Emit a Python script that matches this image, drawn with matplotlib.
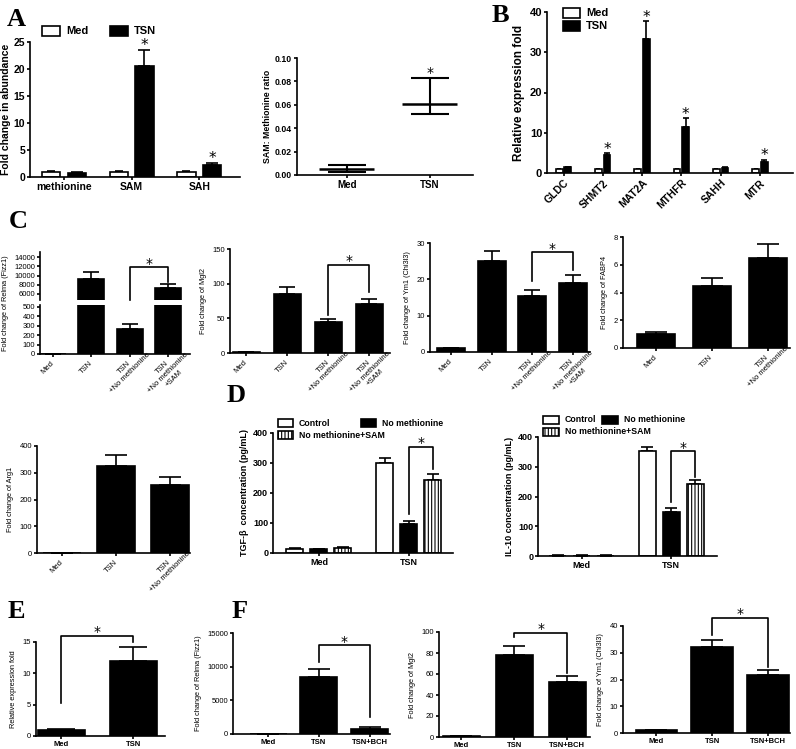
import matplotlib
matplotlib.use('Agg')
import matplotlib.pyplot as plt
import numpy as np
from matplotlib.patches import Rectangle

plt.rcParams['font.family'] = ['Liberation Sans', 'DejaVu Sans']
plt.rcParams['hatch.linewidth'] = 0.8

W, H = 796, 749

# ---- data ----
A_groups = ['methionine', 'SAM', 'SAH']
A_med = [1.0, 1.0, 1.0]
A_med_err = [0.1, 0.08, 0.1]
A_tsn = [0.8, 20.6, 2.3]
A_tsn_err = [0.1, 2.9, 0.25]

ratio_groups = ['Med', 'TSN']
ratio_mean = [0.005, 0.061]
ratio_lo = [0.0025, 0.052]
ratio_hi = [0.0085, 0.083]

B_genes = ['GLDC', 'SHMT2', 'MAT2A', 'MTHFR', 'SAHH', 'MTR']
B_med = [1.0, 1.0, 1.0, 1.0, 1.0, 1.0]
B_med_err = [0.05, 0.05, 0.05, 0.05, 0.05, 0.05]
B_tsn = [1.4, 4.4, 33.3, 11.5, 1.3, 2.8]
B_tsn_err = [0.15, 0.5, 4.5, 2.1, 0.2, 0.5]

C_groups4 = ['Med', 'TSN', 'TSN\n+No methionine', 'TSN\n+No methionine\n+SAM']
C_groups3 = ['Med', 'TSN', 'TSN\n+No methionine']
relma = [1, 9300, 270, 7300]
relma_err = [0, 1400, 50, 900]
mgl2 = [1, 85, 44, 70]
mgl2_err = [0.3, 10, 5, 8]
ym1 = [1, 25, 15.3, 18.9]
ym1_err = [0.15, 2.8, 1.8, 2.4]
fabp4 = [1.0, 4.45, 6.5]
fabp4_err = [0.12, 0.6, 1.0]
arg1 = [1, 325, 255]
arg1_err = [0.5, 40, 30]

D_groups = ['Med', 'TSN']
tgf_control = [14, 300]
tgf_control_err = [2, 18]
tgf_nomet = [13, 98]
tgf_nomet_err = [2, 8]
tgf_sam = [18, 245]
tgf_sam_err = [3, 18]
il10_control = [1.5, 352]
il10_control_err = [0.3, 14]
il10_nomet = [1.5, 147]
il10_nomet_err = [0.3, 14]
il10_sam = [1.5, 243]
il10_sam_err = [0.3, 13]

E_groups = ['Med', 'TSN']
E_vals = [1.0, 12.0]
E_err = [0.1, 2.2]

F_groups = ['Med', 'TSN', 'TSN+BCH']
F_relma = [10, 8500, 800]
F_relma_err = [0, 1100, 200]
F_mgl2 = [1, 78, 52]
F_mgl2_err = [0.2, 9, 6]
F_ym1 = [1, 32.3, 21.7]
F_ym1_err = [0.1, 2.5, 2]

fig = plt.figure(figsize=(W / 100, H / 100), dpi=100)


def place(x0, y0, x1, y1):
    return fig.add_axes([x0 / W, 1 - y1 / H, (x1 - x0) / W, (y1 - y0) / H])


def style(ax, fs=5.5, bold=False):
    for s in ['top', 'right']:
        ax.spines[s].set_visible(False)
    for s in ['left', 'bottom']:
        ax.spines[s].set_linewidth(1.2)
    ax.tick_params(direction='out', length=2.5, width=1.2, labelsize=fs, pad=1)
    if bold:
        for lbl in ax.get_yticklabels() + ax.get_xticklabels():
            lbl.set_fontweight('bold')


def bars(ax, x, h, err, width, cap, color='black', hatch=None):
    x = np.asarray(x, dtype=float)
    ax.bar(x, h, width, color=color, edgecolor='black', linewidth=1.2,
           hatch=hatch, zorder=2)
    ax.errorbar(x, h, yerr=[np.zeros(len(h)), err], fmt='none', ecolor='black',
                elinewidth=1.2, capsize=cap, capthick=1.2, zorder=1)


def star(ax, x, y, fs=11):
    # asterisk glyph sits just above y
    ax.annotate('*', xy=(x, y), xytext=(0, 1.5 - 0.18 * fs), textcoords='offset points',
                ha='center', va='baseline', fontsize=fs, family='DejaVu Sans',
                annotation_clip=False)


def bracket(ax, x1, x2, y, y1, y2, fs=10):
    ax.plot([x1, x1, x2, x2], [y1, y, y, y2], color='black', lw=1.2, clip_on=False)
    star(ax, (x1 + x2) / 2, y, fs)


def rot_labels(ax, labels, fs=5.5):
    ax.set_xticks(range(len(labels)))
    ax.set_xticklabels([])
    for i, lab in enumerate(labels):
        first = lab.split('\n')[0]
        d = 0.354 * 0.65 * fs * len(first)
        ax.annotate(lab, xy=(i, 0), xycoords=('data', 'axes fraction'),
                    xytext=(-2 - d, -4 - d), textcoords='offset points',
                    rotation=45, rotation_mode='anchor', ha='center', va='top',
                    multialignment='center', fontsize=fs, annotation_clip=False)


def leg_entry(x, y, label, face, hatch=None, w=17, h=9, fs=8):
    r = Rectangle((x / W, 1 - (y + h / 2) / H), w / W, h / H, transform=fig.transFigure,
                  facecolor=face, edgecolor='black', lw=1.2, hatch=hatch)
    fig.add_artist(r)
    fig.text((x + w + 6) / W, 1 - y / H, label, va='center', ha='left',
             fontsize=fs, fontweight='bold')


def letter(x, y, s):
    fig.text(x / W, 1 - y / H, s, fontsize=19, fontweight='bold',
             family='Liberation Serif', ha='center', va='center')


# ---- A left ----
ax = place(30, 42, 240, 177)
xa = np.arange(3)
bars(ax, xa - 0.19, A_med, A_med_err, 0.27, 3, color='white')
bars(ax, xa + 0.19, A_tsn, A_tsn_err, 0.27, 4)
ax.set_xlim(-0.5, 2.6)
ax.set_ylim(0, 25)
ax.set_yticks([0, 5, 10, 15, 20, 25])
ax.set_xticks(xa)
ax.set_xticklabels(A_groups)
ax.set_ylabel('Fold change in abundance', fontsize=7.5, fontweight='bold', labelpad=2)
style(ax, fs=7.5, bold=True)
star(ax, 1.19, 23.6)
star(ax, 2.19, 2.7)
leg_entry(42, 31, 'Med', 'white', w=18)
leg_entry(110, 31, 'TSN', 'black', w=18)
letter(16, 20, 'A')

# ---- A right ----
ax = place(297, 58, 473, 175)
xr = np.arange(2)
m = np.array(ratio_mean)
ax.errorbar(xr, m, yerr=[m - np.array(ratio_lo), np.array(ratio_hi) - m], fmt='none',
            ecolor='black', elinewidth=1.5, capsize=14, capthick=1.5)
ax.hlines(m, xr - 0.33, xr + 0.33, color='black', lw=1.8)
ax.set_xlim(-0.6, 1.52)
ax.set_ylim(0, 0.10)
ax.set_yticks([0, 0.02, 0.04, 0.06, 0.08, 0.10])
ax.set_yticklabels(['0.00', '0.02', '0.04', '0.06', '0.08', '0.10'])
ax.set_xticks(xr)
ax.set_xticklabels(ratio_groups, fontsize=7)
ax.set_ylabel('SAM: Methionine ratio', fontsize=6.3, fontweight='bold', labelpad=2)
style(ax, fs=6.3, bold=True)
ax.tick_params(axis='x', labelsize=7)
star(ax, 1, 0.084, 10)

# ---- B ----
ax = place(547, 12, 793, 173)
xb = np.arange(6)
bars(ax, xb - 0.11, B_med, B_med_err, 0.17, 1.5, color='white')
bars(ax, xb + 0.11, B_tsn, B_tsn_err, 0.17, 2)
ax.set_xlim(-0.42, 5.84)
ax.set_ylim(0, 40)
ax.set_yticks([0, 10, 20, 30, 40])
ax.set_xticks(xb)
ax.set_xticklabels(B_genes, rotation=45, ha='right', rotation_mode='anchor')
ax.set_ylabel('Relative expression fold', fontsize=8.5, fontweight='bold', labelpad=3)
style(ax, fs=8, bold=True)
ax.tick_params(axis='x', labelsize=7.5)
for i in [1, 2, 3, 5]:
    star(ax, i + 0.11, B_tsn[i] + B_tsn_err[i])
leg_entry(563, 13, 'Med', 'white')
leg_entry(563, 26, 'TSN', 'black')
letter(500, 15, 'B')

# ---- C1 Relma (broken axis) ----
x4 = np.arange(4)
axl = place(40, 305, 190, 354)
axu = place(40, 252, 190, 300)
for a in (axl, axu):
    bars(a, x4, relma, relma_err, 0.68, 6)
    a.set_xlim(-0.34, 3.57)
axl.set_ylim(0, 521)
axl.set_yticks([0, 100, 200, 300, 400, 500])
axu.set_ylim(4700, 15100)
axu.set_yticks([6000, 8000, 10000, 12000, 14000])
style(axl)
style(axu)
axu.spines['bottom'].set_visible(False)
axu.tick_params(axis='x', bottom=False, labelbottom=False)
rot_labels(axl, C_groups4)
bracket(axu, 2, 3, 11800, 4700, 8600)
fig.text(6 / W, 1 - 303 / H, 'Fold change of Relma (Fizz1)', rotation=90,
         fontsize=5.3, ha='center', va='center')
letter(18, 222, 'C')

# ---- C2 Mgl2 ----
ax = place(230, 249, 390, 353)
bars(ax, x4, mgl2, mgl2_err, 0.66, 6)
ax.set_xlim(-0.4, 3.5)
ax.set_ylim(0, 150)
ax.set_yticks([0, 50, 100, 150])
ax.set_ylabel('Fold change of Mgl2', fontsize=5.3, labelpad=4)
style(ax)
rot_labels(ax, C_groups4)
bracket(ax, 2, 3, 127, 55, 88)

# ---- C3 Ym1 ----
ax = place(430, 243, 590, 352)
bars(ax, x4, ym1, ym1_err, 0.69, 6)
ax.set_xlim(-0.52, 3.43)
ax.set_ylim(0, 30)
ax.set_yticks([0, 10, 20, 30])
ax.set_ylabel('Fold change of Ym1 (Chi3l3)', fontsize=5.3, labelpad=4)
style(ax)
rot_labels(ax, C_groups4)
bracket(ax, 2, 3, 27.5, 19.5, 22.5)

# ---- C4 FABP4 ----
x3 = np.arange(3)
ax = place(623, 237, 790, 348)
bars(ax, x3, fabp4, fabp4_err, 0.68, 8)
ax.set_xlim(-0.59, 2.4)
ax.set_ylim(0, 8)
ax.set_yticks([0, 2, 4, 6, 8])
ax.set_ylabel('Fold change of FABP4', fontsize=5.3, labelpad=4)
style(ax)
rot_labels(ax, C_groups3)

# ---- Arg1 ----
ax = place(37, 446, 190, 553)
bars(ax, x3, arg1, arg1_err, 0.7, 8)
ax.set_xlim(-0.47, 2.37)
ax.set_ylim(0, 400)
ax.set_yticks([0, 100, 200, 300, 400])
ax.set_ylabel('Fold change of Arg1', fontsize=5.3, labelpad=4)
style(ax)
rot_labels(ax, C_groups3)

# ---- D TGF-beta ----
xd = np.arange(2)
ax = place(273, 433, 453, 553)
bars(ax, xd - 0.267, tgf_control, tgf_control_err, 0.19, 4, color='white')
bars(ax, xd, tgf_nomet, tgf_nomet_err, 0.19, 4)
bars(ax, xd + 0.267, tgf_sam, tgf_sam_err, 0.19, 4, color='white', hatch='|' * 5)
ax.set_xlim(-0.51, 1.49)
ax.set_ylim(0, 400)
ax.set_yticks([0, 100, 200, 300, 400])
ax.set_xticks(xd)
ax.set_xticklabels(D_groups)
ax.set_ylabel('TGF-β  concentration (pg/mL)', fontsize=6.5, fontweight='bold', labelpad=3)
style(ax, fs=6.5, bold=True)
bracket(ax, 1, 1.267, 355, 130, 280)
leg_entry(278, 423, 'Control', 'white', w=15, h=8, fs=6.3)
leg_entry(361, 423, 'No methionine', 'black', w=15, h=8, fs=6.3)
leg_entry(278, 435, 'No methionine+SAM', 'white', hatch='|' * 5, w=15, h=8, fs=6.3)
letter(236, 396, 'D')

# ---- D IL-10 ----
ax = place(538, 437, 717, 556)
bars(ax, xd - 0.268, il10_control, il10_control_err, 0.19, 4, color='white')
bars(ax, xd, il10_nomet, il10_nomet_err, 0.19, 4)
bars(ax, xd + 0.268, il10_sam, il10_sam_err, 0.19, 4, color='white', hatch='|' * 5)
ax.set_xlim(-0.49, 1.51)
ax.set_ylim(0, 400)
ax.set_yticks([0, 100, 200, 300, 400])
ax.set_xticks(xd)
ax.set_xticklabels(D_groups)
ax.set_ylabel('IL-10 concentration (pg/mL)', fontsize=6.5, fontweight='bold', labelpad=3)
style(ax, fs=6.5, bold=True)
bracket(ax, 1, 1.268, 352, 180, 265)
leg_entry(543, 420, 'Control', 'white', w=16, h=8, fs=6.3)
leg_entry(602, 420, 'No methionine', 'black', w=16, h=8, fs=6.3)
leg_entry(543, 432, 'No methionine+SAM', 'white', hatch='|' * 5, w=16, h=8, fs=6.3)

# ---- E ----
ax = place(36, 642, 165, 736)
bars(ax, np.arange(2), E_vals, E_err, 0.65, 10)
ax.set_xlim(-0.35, 1.44)
ax.set_ylim(0, 15)
ax.set_yticks([0, 5, 10, 15])
ax.set_xticks(np.arange(2))
ax.set_xticklabels(E_groups, fontweight='bold', fontsize=6.5)
ax.set_ylabel('Relative expression fold', fontsize=5.3, labelpad=4)
style(ax)
bracket(ax, 0, 1, 16, 5.3, 15)
letter(16, 612, 'E')

# ---- F1 Relma ----
ax = place(233, 633, 390, 734)
bars(ax, x3, F_relma, F_relma_err, 0.73, 8)
ax.set_xlim(-0.69, 2.4)
ax.set_ylim(0, 15000)
ax.set_yticks([0, 5000, 10000, 15000])
ax.set_xticks(x3)
ax.set_xticklabels(F_groups, fontweight='bold', fontsize=6)
ax.set_ylabel('Fold change of Relma (Fizz1)', fontsize=5.3, labelpad=4)
style(ax)
bracket(ax, 1, 2, 13200, 10700, 2500)
letter(240, 612, 'F')

# ---- F2 Mgl2 ----
ax = place(439, 632, 590, 737)
bars(ax, x3, F_mgl2, F_mgl2_err, 0.7, 8)
ax.set_xlim(-0.42, 2.43)
ax.set_ylim(0, 100)
ax.set_yticks([0, 20, 40, 60, 80, 100])
ax.set_xticks(x3)
ax.set_xticklabels(F_groups, fontweight='bold', fontsize=6)
ax.set_ylabel('Fold change of Mgl2', fontsize=5.3, labelpad=4)
style(ax)
bracket(ax, 1, 2, 99, 95, 61)

# ---- F3 Ym1 ----
ax = place(623, 626, 790, 733)
bars(ax, x3, F_ym1, F_ym1_err, 0.75, 8)
ax.set_xlim(-0.6, 2.4)
ax.set_ylim(0, 40)
ax.set_yticks([0, 10, 20, 30, 40])
ax.set_xticks(x3)
ax.set_xticklabels(F_groups, fontweight='bold', fontsize=6)
ax.set_ylabel('Fold change of Ym1 (Chi3l3)', fontsize=5.3, labelpad=4)
style(ax)
bracket(ax, 1, 2, 43, 36.7, 24.7)

fig.savefig('out.png', dpi=100)
